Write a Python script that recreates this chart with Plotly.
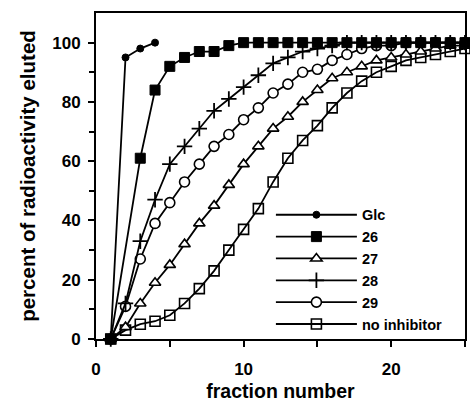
import plotly.graph_objects as go

fractions = list(range(1, 26))

glc_x = [1, 2, 3, 4]
glc_y = [0, 95, 98, 100]

c26_x = [1] + list(range(3, 26))
c26_y = [0, 61, 84, 92, 95, 97, 97, 99, 100] + [100] * 15

c27_y = [0, 4, 12, 19, 25, 32, 39, 45, 52, 59, 65, 71, 75, 80, 84, 88, 90, 92, 94, 95, 96, 97, 98, 99, 99]
c28_y = [0, 12, 33, 47, 59, 65, 71, 77, 81, 85, 89, 93, 95, 97, 98, 99, 100, 100, 100, 100, 100, 100, 100, 100, 100]
c29_y = [0, 11, 27, 39, 46, 53, 59, 65, 69, 74, 78, 83, 86, 90, 91, 94, 96, 98, 99, 99, 100, 100, 100, 100, 100]
noinh_y = [0, 3, 5, 6, 8, 12, 17, 23, 30, 37, 44, 53, 61, 67, 72, 78, 83, 87, 90, 92, 94, 95, 96, 97, 98]

x_ticks = [0, 10, 20]
y_ticks = [0, 20, 40, 60, 80, 100]

FONT = "Liberation Sans, Arial, Helvetica, sans-serif"

series = [
    ("no inhibitor", fractions, noinh_y, dict(symbol="square-open", size=10, color="black", line=dict(width=1.6, color="black"))),
    ("29", fractions, c29_y, dict(symbol="circle", size=10, color="white", line=dict(width=1.6, color="black"))),
    ("28", fractions, c28_y, dict(symbol="cross-thin", size=11, color="black", line=dict(width=1.8, color="black"))),
    ("27", fractions, c27_y, dict(symbol="triangle-up", size=10, color="white", line=dict(width=1.6, color="black"))),
    ("26", c26_x, c26_y, dict(symbol="square", size=10, color="black", line=dict(width=1, color="black"))),
    ("Glc", glc_x, glc_y, dict(symbol="circle", size=7, color="black", line=dict(width=1, color="black"))),
]

fig = go.Figure()
for name, xs, ys, mk in series:
    fig.add_trace(go.Scatter(
        x=xs, y=ys, name=name, mode="lines+markers",
        line=dict(color="black", width=1.8),
        marker=mk, cliponaxis=False,
    ))

fig.update_layout(
    width=470, height=402,
    margin=dict(l=96, r=3, t=13, b=63),
    paper_bgcolor="white", plot_bgcolor="white",
    font=dict(family=FONT, size=15, color="black", weight="bold"),
    showlegend=True,
    legend=dict(
        x=0.474, y=0.43, xanchor="left", yanchor="top",
        traceorder="reversed",
        font=dict(family=FONT, size=14.5, color="black", weight="bold"),
        itemwidth=81, tracegroupgap=0,
        bgcolor="rgba(0,0,0,0)", borderwidth=0,
    ),
)

fig.update_xaxes(
    range=[0, 25], tickvals=x_ticks, ticktext=[str(v) for v in x_ticks],
    showgrid=False, zeroline=False,
    showline=True, linecolor="black", linewidth=1.8, mirror=True,
    ticks="outside", ticklen=6, tickwidth=1.5, tickcolor="black",
    ticklabelstandoff=8,
    minor=dict(tickvals=[5, 15, 25], ticks="outside", ticklen=6, tickwidth=1.5, tickcolor="black"),
    tickfont=dict(family=FONT, size=17, color="black", weight="bold"),
    title=dict(text="fraction number", font=dict(family=FONT, size=19.5, color="black", weight="bold"), standoff=6),
)
fig.update_yaxes(
    range=[0, 110], tickvals=y_ticks, ticktext=[str(v) for v in y_ticks],
    showgrid=False, zeroline=False,
    showline=True, linecolor="black", linewidth=2, mirror=True,
    ticks="outside", ticklen=6, tickwidth=1.5, tickcolor="black",
    ticklabelstandoff=4,
    minor=dict(tickvals=[10, 30, 50, 70, 90], ticks="outside", ticklen=5, tickwidth=1.5, tickcolor="black"),
    tickfont=dict(family=FONT, size=17, color="black", weight="bold"),
    title=dict(text="percent of radioactivity eluted", font=dict(family=FONT, size=20.5, color="black", weight="bold"), standoff=11),
)

fig.write_html("out.html")
